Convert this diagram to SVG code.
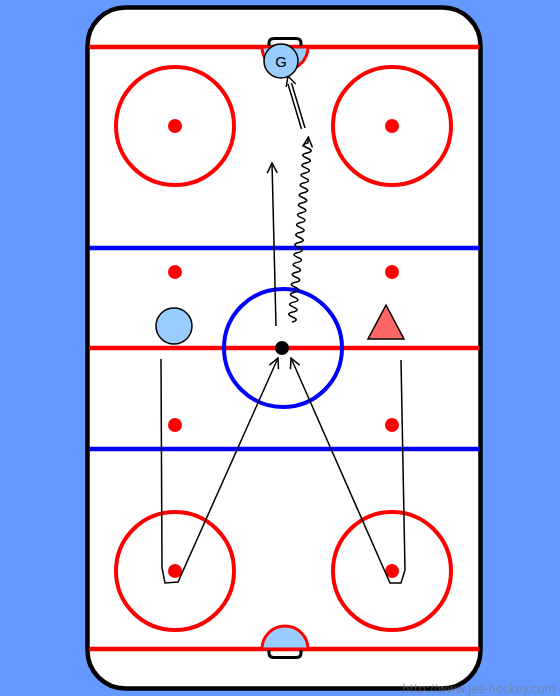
<svg xmlns="http://www.w3.org/2000/svg" width="560" height="696" viewBox="0 0 560 696">
<style>
.red{stroke:#ff0000;stroke-width:4.5;fill:none}
.blue{stroke:#0000ff;stroke-width:4.5;fill:none}
.fo{stroke:#ff0000;stroke-width:4;fill:none}
.dot{fill:#ff0000}
.crease{fill:#99ccff;stroke:#ff0000;stroke-width:3}
.net{fill:none;stroke:#000;stroke-width:3}
.path{fill:none;stroke:#000;stroke-width:1.5}
</style>
<defs>
<marker id="ah" viewBox="0 0 12 12" refX="11" refY="6" markerWidth="12" markerHeight="12" markerUnits="userSpaceOnUse" orient="auto">
<path d="M1,1 L11,6 L1,11" fill="none" stroke="#000" stroke-width="1.5"/>
</marker>
</defs>
<rect width="560" height="696" fill="#6699ff"/>
<g id="rink">
<rect x="87.5" y="7.5" width="393" height="681" rx="38" ry="38" fill="#fff" stroke="#000" stroke-width="4.5"/>
<line class="red" x1="89" y1="47" x2="479" y2="47"/>
<line class="red" x1="89" y1="649" x2="479" y2="649"/>
<line class="blue" x1="89" y1="248" x2="479" y2="248"/>
<line class="blue" x1="89" y1="449" x2="479" y2="449"/>
<line class="red" x1="89" y1="348" x2="479" y2="348"/>
<circle cx="283" cy="348" r="59" fill="none" stroke="#0000ff" stroke-width="4"/>
<circle cx="282" cy="348" r="7" fill="#000"/>
<circle class="fo" cx="175" cy="126" r="59"/>
<circle class="fo" cx="392" cy="126" r="59"/>
<circle class="fo" cx="175" cy="571" r="59"/>
<circle class="fo" cx="392" cy="571" r="59"/>
<circle class="dot" cx="175" cy="126" r="7"/>
<circle class="dot" cx="392" cy="126" r="7"/>
<circle class="dot" cx="175" cy="571" r="7"/>
<circle class="dot" cx="392" cy="571" r="7"/>
<circle class="dot" cx="175" cy="272" r="7"/>
<circle class="dot" cx="392" cy="272" r="7"/>
<circle class="dot" cx="175" cy="425" r="7"/>
<circle class="dot" cx="392" cy="425" r="7"/>
<path class="crease" d="M262,47 A23,23 0 0 0 308,47 Z"/>
<path class="net" d="M269,46 L269,43 Q269,38.5 274,38.5 L296,38.5 Q301,38.5 301,43 L301,46"/>
<path class="crease" d="M262,649 A23,23 0 0 1 308,649 Z"/>
<path class="net" d="M269,650 L269,653 Q269,657.5 274,657.5 L296,657.5 Q301,657.5 301,653 L301,650"/>
</g>
<g id="connectors">
<path class="path" d="M161,359 L162,568 L165,583 L178,582 L278,358" marker-end="url(#ah)"/>
<path class="path" d="M401,360 L405,570 L401,583 L390,583 L291,358" marker-end="url(#ah)"/>
<path class="path" d="M276,326 L272,163" marker-end="url(#ah)"/>
<path class="path" stroke-width="1.7" d="M292,322 q8.18,-1.79 0.44,-4.97 t0.44,-4.97 t0.44,-4.97 t0.44,-4.97 t0.44,-4.97 t0.44,-4.97 t0.44,-4.97 t0.44,-4.97 t0.44,-4.97 t0.44,-4.97 t0.44,-4.97 t0.44,-4.97 t0.44,-4.97 t0.44,-4.97 t0.44,-4.97 t0.44,-4.97 t0.44,-4.97 t0.44,-4.97 t0.44,-4.97 t0.44,-4.97 t0.44,-4.97 t0.44,-4.97 t0.44,-4.97 t0.44,-4.97 t0.44,-4.97 t0.44,-4.97 t0.44,-4.97 t0.44,-4.97 t0.44,-4.97 t0.44,-4.97 t0.44,-4.97 t0.44,-4.97 t0.44,-4.97 t0.44,-4.97 t0.44,-4.97 t0.44,-4.97 l0.5,-6" marker-end="url(#ah)"/>
<line class="path" x1="305" y1="128" x2="291.5" y2="83"/>
<line class="path" x1="301.5" y1="129" x2="288" y2="84"/>
<path class="path" d="M295.7,84.1 L288,76 L286.2,87"/>
</g>
<g id="player-left">
<circle cx="174" cy="326" r="18" fill="#99ccff" stroke="#000" stroke-width="1.5"/>
</g>
<g id="player-triangle">
<polygon points="386,305 368,339 404,339" fill="#ff6666" stroke="#000" stroke-width="1.5"/>
</g>
<g id="goalie">
<circle cx="281" cy="61" r="17" fill="#99ccff" stroke="#000" stroke-width="1.5"/>
<text x="281" y="66.5" font-family="Liberation Sans, Arial, sans-serif" font-size="15" text-anchor="middle" fill="#000">G</text>
</g>
<text x="556" y="693" font-family="DejaVu Sans, Verdana, sans-serif" font-size="11.5" text-anchor="end" fill="#777" fill-opacity="0.6">http://www.jes-hockey.com</text>
</svg>
